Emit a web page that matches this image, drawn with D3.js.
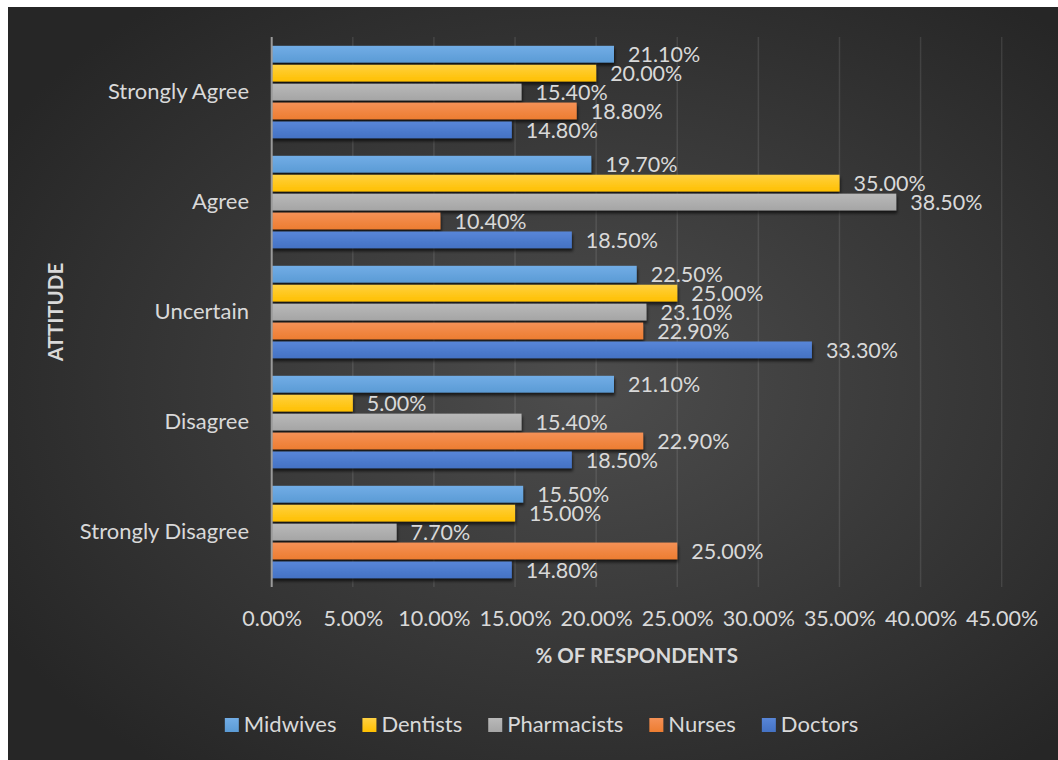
<!DOCTYPE html>
<html>
<head>
<meta charset="utf-8">
<script src="https://cdn.jsdelivr.net/npm/d3@7"></script>
<style>
  html, body { margin: 0; padding: 0; background: #ffffff; }
  svg { display: block; }
  text { font-family: Lato, "Open Sans", sans-serif; }
</style>
</head>
<body>
<svg id="chart" width="1058" height="760"></svg>
<script>
// Attitude categories, top to bottom
const categories = ["Strongly Agree", "Agree", "Uncertain", "Disagree", "Strongly Disagree"];
// Professions, in the order they are stacked within each group
const seriesNames = ["Midwives", "Dentists", "Pharmacists", "Nurses", "Doctors"];
// Percentage of respondents per profession, one value per attitude
const midwives    = [21.1, 19.7, 22.5, 21.1, 15.5];
const dentists    = [20.0, 35.0, 25.0, 5.0, 15.0];
const pharmacists = [15.4, 38.5, 23.1, 15.4, 7.7];
const nurses      = [18.8, 10.4, 22.9, 22.9, 25.0];
const doctors     = [14.8, 18.5, 33.3, 18.5, 14.8];
// Axis ticks
const xTicks = [0, 5, 10, 15, 20, 25, 30, 35, 40, 45];

const seriesValues = [midwives, dentists, pharmacists, nurses, doctors];
const colors = ["#5b9bd5", "#ffc000", "#a5a5a5", "#ed7d31", "#4472c4"];
const lightColors = ["#72ade6", "#ffd143", "#b9b9b9", "#f59156", "#5886d8"];
const textColor = "#d9d9d9";
const pct = d => d3.format(".2f")(d) + "%";

const svg = d3.select("#chart");
const defs = svg.append("defs");

// Dark backdrop, lighter toward the middle
const bg = defs.append("radialGradient").attr("id", "bg")
  .attr("cx", "55%").attr("cy", "50%").attr("r", "65%");
bg.append("stop").attr("offset", "0%").attr("stop-color", "#4d4d4d");
bg.append("stop").attr("offset", "100%").attr("stop-color", "#262626");

// Per-series vertical gradient for the bars
seriesNames.forEach((s, i) => {
  const g = defs.append("linearGradient").attr("id", "grad" + i)
    .attr("x1", 0).attr("y1", 0).attr("x2", 0).attr("y2", 1);
  g.append("stop").attr("offset", "0%").attr("stop-color", lightColors[i]);
  g.append("stop").attr("offset", "100%").attr("stop-color", colors[i]);
});

const shadow = defs.append("filter").attr("id", "shadow")
  .attr("x", "-5%").attr("y", "-30%").attr("width", "115%").attr("height", "190%");
shadow.append("feDropShadow").attr("dx", 1).attr("dy", 3).attr("stdDeviation", 1.8)
  .attr("flood-color", "#000").attr("flood-opacity", 0.65);

svg.append("rect").attr("x", 8).attr("y", 7).attr("width", 1050).attr("height", 753)
  .attr("fill", "url(#bg)");

const x = d3.scaleLinear().domain([0, 45]).range([271.7, 1001.7]);
const y = d3.scaleBand().domain(categories).range([37, 587]).paddingInner(0.16).paddingOuter(0.08);
const yInner = d3.scaleBand().domain(seriesNames).range([0, y.bandwidth()]).paddingInner(0.116);

// Vertical gridlines
svg.append("g").selectAll("line").data(xTicks.slice(1)).join("line")
  .attr("x1", d => x(d)).attr("x2", d => x(d))
  .attr("y1", 37).attr("y2", 587)
  .attr("stroke", "#ffffff").attr("stroke-opacity", 0.1).attr("stroke-width", 1.5);

// Bars with value labels
const groups = svg.append("g").selectAll("g").data(categories).join("g")
  .attr("transform", d => `translate(0,${y(d)})`);

groups.each(function(cat, ci) {
  const g = d3.select(this);
  const rows = seriesNames.map((s, si) => ({ s, si, v: seriesValues[si][ci] }));
  g.selectAll("rect").data(rows).join("rect")
    .attr("x", x(0))
    .attr("y", d => yInner(d.s))
    .attr("width", d => x(d.v) - x(0))
    .attr("height", yInner.bandwidth())
    .attr("fill", d => `url(#grad${d.si})`)
    .attr("filter", "url(#shadow)");
  g.selectAll("text").data(rows).join("text")
    .attr("x", d => x(d.v) + 14)
    .attr("y", d => yInner(d.s) + yInner.bandwidth() / 2)
    .attr("dy", "0.38em")
    .attr("fill", textColor)
    .attr("font-size", 21.5)
    .text(d => pct(d.v));
});

// Value axis line
svg.append("line").attr("x1", x(0)).attr("x2", x(0)).attr("y1", 37).attr("y2", 587)
  .attr("stroke", "#9a9a9a").attr("stroke-width", 2);

// Bottom axis labels
const xAxis = d3.axisBottom(x).tickValues(xTicks).tickSize(0).tickPadding(0).tickFormat(pct);
const xg = svg.append("g").attr("transform", "translate(0,626)").call(xAxis);
xg.select(".domain").remove();
xg.selectAll("text").attr("dy", 0).attr("y", 0).attr("fill", textColor).attr("font-size", 21.5)
  .attr("font-family", "Lato, 'Open Sans', sans-serif");

// Category labels
const yAxis = d3.axisLeft(y).tickSize(0).tickPadding(0);
const yg = svg.append("g").attr("transform", "translate(249,0)").call(yAxis);
yg.select(".domain").remove();
yg.selectAll("text").attr("fill", textColor).attr("font-size", 22).attr("dy", "0.34em")
  .attr("font-family", "Lato, 'Open Sans', sans-serif");

// Axis titles
svg.append("text").attr("x", 636.7).attr("y", 663).attr("text-anchor", "middle")
  .attr("fill", textColor).attr("font-size", 20.5).attr("font-weight", "bold")
  .text("% OF RESPONDENTS");
svg.append("text").attr("transform", "translate(63,312) rotate(-90)")
  .attr("text-anchor", "middle").attr("fill", textColor)
  .attr("font-size", 20.5).attr("font-weight", "bold").text("ATTITUDE");

// Legend
const legend = svg.append("g").attr("transform", "translate(0,725)");
const items = legend.selectAll("g").data(seriesNames).join("g");
items.append("rect").attr("y", -7).attr("width", 14).attr("height", 14)
  .attr("fill", (d, i) => `url(#grad${i})`);
items.append("text").attr("x", 19).attr("dy", "0.32em")
  .attr("fill", textColor).attr("font-size", 22).text(d => d);
const widths = [];
items.each(function() { widths.push(19 + d3.select(this).select("text").node().getComputedTextLength()); });
const gap = 26;
const total = d3.sum(widths) + gap * (widths.length - 1);
let cx = 541.5 - total / 2;
items.attr("transform", (d, i) => {
  const t = `translate(${cx},0)`;
  cx += widths[i] + gap;
  return t;
});
</script>
</body>
</html>
